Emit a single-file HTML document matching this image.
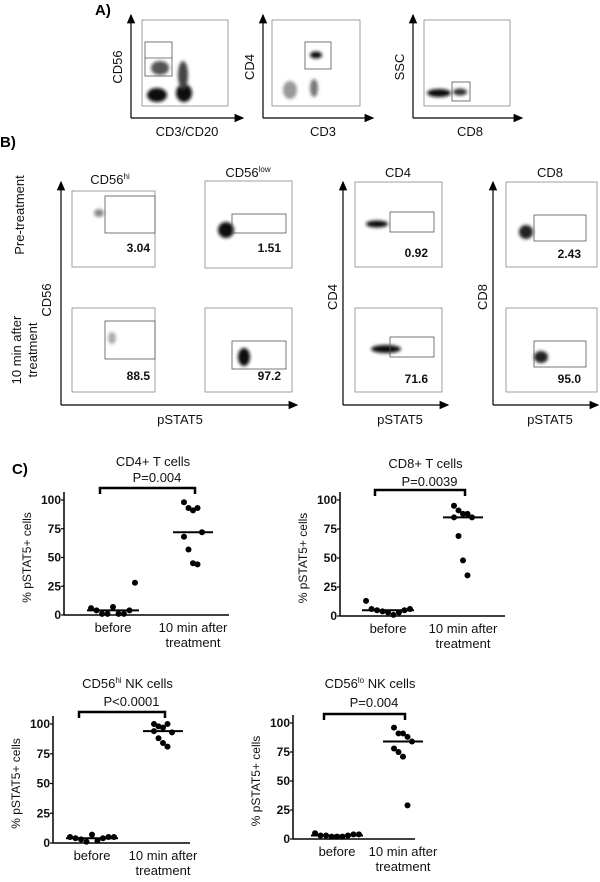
<!DOCTYPE html>
<html><head><meta charset="utf-8"><style>
html,body{margin:0;padding:0;background:#fff}
svg{display:block;font-family:"Liberation Sans",Arial,sans-serif}
.lbl{font-size:13px;fill:#111}
.num{font-size:12px;font-weight:bold;fill:#111}
.tk{font-size:12px;font-weight:bold;fill:#111}
.pl{font-size:15px;font-weight:bold;fill:#000}
</style></head><body>
<svg id="fig" width="600" height="882" viewBox="0 0 600 882" xmlns="http://www.w3.org/2000/svg">
<defs>
<marker id="arr" markerWidth="8" markerHeight="8" refX="7" refY="4" orient="auto"><path d="M0,0.5 L8,4 L0,7.5 Z" fill="#000"/></marker>
<filter id="bl" x="-50%" y="-50%" width="200%" height="200%"><feGaussianBlur stdDeviation="1.6"/></filter>
</defs>

<text x="95" y="15" class="pl">A)</text>
<g stroke="#000" fill="none">
<line x1="131" y1="118" x2="131" y2="15" stroke-width="1.2" marker-end="url(#arr)"/>
<line x1="131" y1="118" x2="243" y2="118" stroke-width="1.2" marker-end="url(#arr)"/>
<rect x="142" y="20" width="86" height="86" stroke="#888" stroke-width="0.8"/>
<g filter="url(#bl)" stroke="none" fill="#111"><ellipse cx="157" cy="95" rx="10" ry="7"/><ellipse cx="184" cy="93" rx="8" ry="9"/><ellipse cx="183" cy="75" rx="5" ry="14" fill="#444"/><ellipse cx="160" cy="68" rx="9" ry="7" fill="#555"/></g>
<rect x="145" y="42" width="27" height="34" stroke="#555" stroke-width="0.8"/><line x1="145" y1="58" x2="172" y2="58" stroke="#555" stroke-width="0.8"/>
</g>
<text class="lbl" transform="translate(122,67) rotate(-90)" text-anchor="middle">CD56</text>
<text class="lbl" x="187" y="136" text-anchor="middle">CD3/CD20</text>

<g stroke="#000" fill="none">
<line x1="263" y1="118" x2="263" y2="15" stroke-width="1.2" marker-end="url(#arr)"/>
<line x1="263" y1="118" x2="373" y2="118" stroke-width="1.2" marker-end="url(#arr)"/>
<rect x="272" y="20" width="88" height="86" stroke="#888" stroke-width="0.8"/>
<g filter="url(#bl)" stroke="none"><ellipse cx="316" cy="55" rx="6" ry="3.5" fill="#111"/><ellipse cx="290" cy="90" rx="7" ry="9" fill="#999"/><ellipse cx="314" cy="88" rx="4" ry="9" fill="#777"/></g>
<rect x="305" y="42" width="26" height="27" stroke="#555" stroke-width="0.8"/>
</g>
<text class="lbl" transform="translate(254,67) rotate(-90)" text-anchor="middle">CD4</text>
<text class="lbl" x="323" y="136" text-anchor="middle">CD3</text>

<g stroke="#000" fill="none">
<line x1="413" y1="118" x2="413" y2="15" stroke-width="1.2" marker-end="url(#arr)"/>
<line x1="413" y1="118" x2="522" y2="118" stroke-width="1.2" marker-end="url(#arr)"/>
<rect x="424" y="20" width="86" height="86" stroke="#888" stroke-width="0.8"/>
<g filter="url(#bl)" stroke="none" fill="#111"><ellipse cx="439" cy="93" rx="12" ry="4"/><ellipse cx="460" cy="92" rx="7" ry="3.5" fill="#333"/></g>
<rect x="452" y="82" width="18" height="19" stroke="#555" stroke-width="0.8"/>
</g>
<text class="lbl" transform="translate(404,67) rotate(-90)" text-anchor="middle">SSC</text>
<text class="lbl" x="470" y="136" text-anchor="middle">CD8</text>

<text x="0" y="147" class="pl">B)</text>
<g stroke="#000" fill="none" stroke-width="1.2">
<line x1="61" y1="405" x2="61" y2="182" marker-end="url(#arr)"/><line x1="61" y1="405" x2="297" y2="405" marker-end="url(#arr)"/>
<line x1="343" y1="405" x2="343" y2="182" marker-end="url(#arr)"/><line x1="343" y1="405" x2="448" y2="405" marker-end="url(#arr)"/>
<line x1="493" y1="405" x2="493" y2="182" marker-end="url(#arr)"/><line x1="493" y1="405" x2="598" y2="405" marker-end="url(#arr)"/>
</g>
<g stroke="#888" fill="none" stroke-width="0.8">
<rect x="72" y="191" width="83" height="76"/><rect x="205" y="181" width="87" height="87"/>
<rect x="72" y="308" width="83" height="84"/><rect x="205" y="308" width="87" height="84"/>
<rect x="355" y="182" width="87" height="85"/><rect x="355" y="308" width="87" height="84"/>
<rect x="506" y="182" width="91" height="85"/><rect x="506" y="308" width="91" height="84"/>
</g>
<g filter="url(#bl)">
<ellipse cx="99" cy="213" rx="5" ry="4" fill="#888"/><ellipse cx="226" cy="230" rx="8" ry="8" fill="#111"/>
<ellipse cx="112" cy="338" rx="4" ry="6" fill="#aaa"/><ellipse cx="244" cy="357" rx="6" ry="9" fill="#111"/>
<ellipse cx="377" cy="224" rx="11" ry="3.5" fill="#111"/><ellipse cx="386" cy="349" rx="15" ry="4" fill="#111"/>
<ellipse cx="526" cy="232" rx="7" ry="7" fill="#222"/><ellipse cx="541" cy="357" rx="7" ry="6" fill="#222"/>
</g>
<g stroke="#555" fill="none" stroke-width="0.8">
<rect x="105" y="196" width="50" height="37"/><rect x="232" y="214" width="54" height="19"/>
<rect x="105" y="321" width="50" height="38"/><rect x="232" y="341" width="54" height="28"/>
<rect x="390" y="212" width="44" height="20"/><rect x="390" y="337" width="44" height="20"/>
<rect x="534" y="215" width="52" height="26"/><rect x="534" y="341" width="52" height="26"/>
</g>
<g class="num" text-anchor="end">
<text x="150" y="252">3.04</text><text x="281" y="252">1.51</text>
<text x="150" y="380">88.5</text><text x="281" y="380">97.2</text>
<text x="428" y="257">0.92</text><text x="428" y="383">71.6</text>
<text x="581" y="258">2.43</text><text x="581" y="383">95.0</text>
</g>
<g class="lbl" text-anchor="middle">
<text x="110" y="184">CD56<tspan font-size="8" dy="-5">hi</tspan></text>
<text x="248" y="177">CD56<tspan font-size="8" dy="-5">low</tspan></text>
<text x="398" y="177">CD4</text><text x="550" y="177">CD8</text>
<text x="180" y="424">pSTAT5</text><text x="400" y="424">pSTAT5</text><text x="550" y="424">pSTAT5</text>
<text transform="translate(24,215) rotate(-90)">Pre-treatment</text>
<text transform="translate(51,300) rotate(-90)">CD56</text>
<text transform="translate(21,350) rotate(-90)">10 min after</text>
<text transform="translate(37,350) rotate(-90)">treatment</text>
<text transform="translate(337,297) rotate(-90)">CD4</text>
<text transform="translate(487,297) rotate(-90)">CD8</text>
</g>

<text x="12" y="474" class="pl">C)</text>
<g id="charts"></g>
</svg>
<script>
const ticks=[0,25,50,75,100];
const cd4Before=[6,4,1,1,7,1,1,4,28];
const cd4After=[98,93,91,93,72,68,57,45,44];
const cd8Before=[13,6,5,4,3,1,3,5,6];
const cd8After=[95,91,88,88,85,85,69,48,35];
const nkhiBefore=[5,4,3,1,7,2,4,5,5];
const nkhiAfter=[100,98,97,100,93,94,88,84,81];
const nkloBefore=[5,3,3,2,2,2,3,4,4];
const nkloAfter=[96,91,91,88,84,78,75,71,29];
const pvals=["P=0.004","P=0.0039","P<0.0001","P=0.004"];
const NS="http://www.w3.org/2000/svg";
const root=document.getElementById('charts');
function mk(tag,attrs,parent,txt){const e=document.createElementNS(NS,tag);for(const k in attrs)e.setAttribute(k,attrs[k]);if(txt!==undefined)e.textContent=txt;parent.appendChild(e);return e;}
function median(a){const s=[...a].sort((x,y)=>x-y);return s[Math.floor(s.length/2)];}
const cfg=[
 {name:'cd4',title:'CD4+ T cells',sup:'',p:pvals[0],before:cd4Before,after:cd4After,ax:64,y0:615,y100:500,xr:229,bx:113,fx:193,bt:488,tY:466,pY:482},
 {name:'cd8',title:'CD8+ T cells',sup:'',p:pvals[1],before:cd8Before,after:cd8After,ax:340,y0:616,y100:500,xr:505,bx:388,fx:463,bt:490,tY:468,pY:486},
 {name:'cd56hi',title:'CD56',sup:'hi',rest:' NK cells',p:pvals[2],before:nkhiBefore,after:nkhiAfter,ax:53,y0:843,y100:724,xr:190,bx:92,fx:163,bt:712,tY:688,pY:706},
 {name:'cd56lo',title:'CD56',sup:'lo',rest:' NK cells',p:pvals[3],before:nkloBefore,after:nkloAfter,ax:293,y0:839,y100:723,xr:415,bx:337,fx:403,bt:714,tY:688,pY:707}
];
cfg.forEach(c=>{
 const g=mk('g',{},root);
 
 
 const y=v=>c.y0+(c.y100-c.y0)*v/100;
 const ax=mk('line',{x1:c.ax,y1:y(100)-8,x2:c.ax,y2:c.y0,stroke:'#000','stroke-width':1.5},g);
 
 
 const xa=mk('line',{x1:c.ax,y1:c.y0,x2:c.xr,y2:c.y0,stroke:'#000','stroke-width':1.5},g);
 
 
 ticks.forEach(t=>{
  mk('line',{x1:c.ax-3,y1:y(t),x2:c.ax,y2:y(t),stroke:'#000','stroke-width':1.2},g);
  const tl=mk('text',{x:c.ax-3,y:y(t)+4,'text-anchor':'end',class:'tk'},g,String(t));
  
  
 });
 const yt=mk('text',{transform:`translate(${c.ax-33},${(c.y0+y(100))/2}) rotate(-90)`,'text-anchor':'middle',class:'lbl'},g,'% pSTAT5+ cells');
 yt.style.fontSize='12px';
 
 
 const tt=mk('text',{x:(c.bx+c.fx)/2,y:c.tY,'text-anchor':'middle',class:'lbl'},g,c.title);
 if(c.sup){mk('tspan',{'font-size':'8',dy:'-5'},tt,c.sup);mk('tspan',{dy:'5'},tt,c.rest);}
 
 
 const pt=mk('text',{x:(c.bx+c.fx)/2+4,y:c.pY,'text-anchor':'middle',class:'lbl'},g,c.p);
 
 
 const br=mk('path',{d:`M${c.bx-13},${c.bt+6} V${c.bt} H${c.fx+2} V${c.bt+6}`,fill:'none',stroke:'#000','stroke-width':2.5},g);
 
 
 [['before',c.bx],['10 min after',c.fx]].forEach(([s,x])=>{
  const l=mk('text',{x:x,y:c.y0+17,'text-anchor':'middle',class:'lbl'},g,s);
  
  
 });
 const l2=mk('text',{x:c.fx,y:c.y0+32,'text-anchor':'middle',class:'lbl'},g,'treatment');
 
 
 [[c.before,c.bx,26,true],[c.after,c.fx,20,false]].forEach(([arr,cx,w,wide])=>{
  const m=median(arr);
  const ml=mk('line',{x1:cx-w,y1:y(m),x2:cx+w,y2:y(m),stroke:'#000','stroke-width':2},g);
  
  
  const n=arr.length;
  arr.forEach((v,i)=>{
   const off=wide?(i-(n-1)/2)*(2*w/n)*0.95:((i%5)-2)*4.5;
   const d=mk('circle',{cx:cx+off,cy:y(v),r:3,fill:'#000'},g);
   
   
  });
 });
});
</script>
</body></html>
